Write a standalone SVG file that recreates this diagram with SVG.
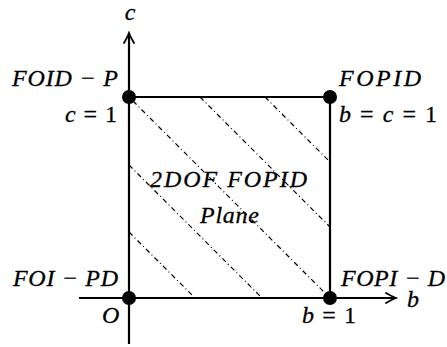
<svg xmlns="http://www.w3.org/2000/svg" width="447" height="347" viewBox="0 0 447 347">
<style>
text{font-family:"Liberation Serif","Times New Roman",serif;font-style:italic;font-size:24px;fill:#000;stroke:#000;stroke-width:0.3}
.n{font-style:normal}
.edge{stroke:#000;stroke-width:2.2;fill:none}
.hatch{stroke:#000;stroke-width:1.2;fill:none;stroke-dasharray:5 3 1 3}
.dot{fill:#000}
</style>
<defs>
<marker id="arr" viewBox="-12 -6 14 12" markerWidth="14" markerHeight="12" refX="0" refY="0" orient="auto" markerUnits="userSpaceOnUse">
<path d="M-10,-5 Q-3,-1 0,0 Q-3,1 -10,5" fill="none" stroke="#000" stroke-width="1.8" stroke-linecap="round"/>
</marker>
</defs>
<rect width="447" height="347" fill="#fff"/>
<g id="hatching">
<line class="hatch" x1="133" y1="101" x2="326" y2="294"/>
<line class="hatch" x1="200" y1="97" x2="330" y2="227"/>
<line class="hatch" x1="265" y1="97" x2="330" y2="162"/>
<line class="hatch" x1="129" y1="165" x2="262" y2="298"/>
<line class="hatch" x1="129" y1="232" x2="195" y2="298"/>
</g>
<g id="connectors">
<line class="edge" x1="129" y1="344" x2="129" y2="33" marker-end="url(#arr)"/>
<line class="edge" x1="79" y1="298" x2="396" y2="298" marker-end="url(#arr)"/>
<line class="edge" x1="129" y1="97" x2="330" y2="97"/>
<line class="edge" x1="330" y1="97" x2="330" y2="298"/>
</g>
<g id="axis-c"><text x="130" y="20" text-anchor="middle">c</text></g>
<g id="axis-b"><text x="407" y="307">b</text></g>
<g id="node-FOID-P">
<circle class="dot" cx="129" cy="97" r="7"/>
<text x="12" y="86" textLength="106" lengthAdjust="spacing">FOID − P</text>
<text x="65" y="122" textLength="52" lengthAdjust="spacing">c <tspan class="n">= 1</tspan></text>
</g>
<g id="node-FOPID">
<circle class="dot" cx="330" cy="97" r="7"/>
<text x="339" y="86" textLength="82" lengthAdjust="spacing">FOPID</text>
<text x="339" y="122" textLength="98" lengthAdjust="spacing">b <tspan class="n">=</tspan> c <tspan class="n">= 1</tspan></text>
</g>
<g id="node-FOI-PD">
<circle class="dot" cx="129" cy="298" r="7"/>
<text x="13" y="286" textLength="105" lengthAdjust="spacing">FOI − PD</text>
<text x="102" y="323">O</text>
</g>
<g id="node-FOPI-D">
<circle class="dot" cx="330" cy="298" r="7"/>
<text x="341" y="286" textLength="104" lengthAdjust="spacing">FOPI − D</text>
<text x="302" y="323" textLength="54" lengthAdjust="spacing">b <tspan class="n">= 1</tspan></text>
</g>
<g id="node-plane">
<text x="150" y="187" textLength="157" lengthAdjust="spacing">2DOF FOPID</text>
<text x="200" y="223" textLength="59" lengthAdjust="spacing">Plane</text>
</g>
</svg>
